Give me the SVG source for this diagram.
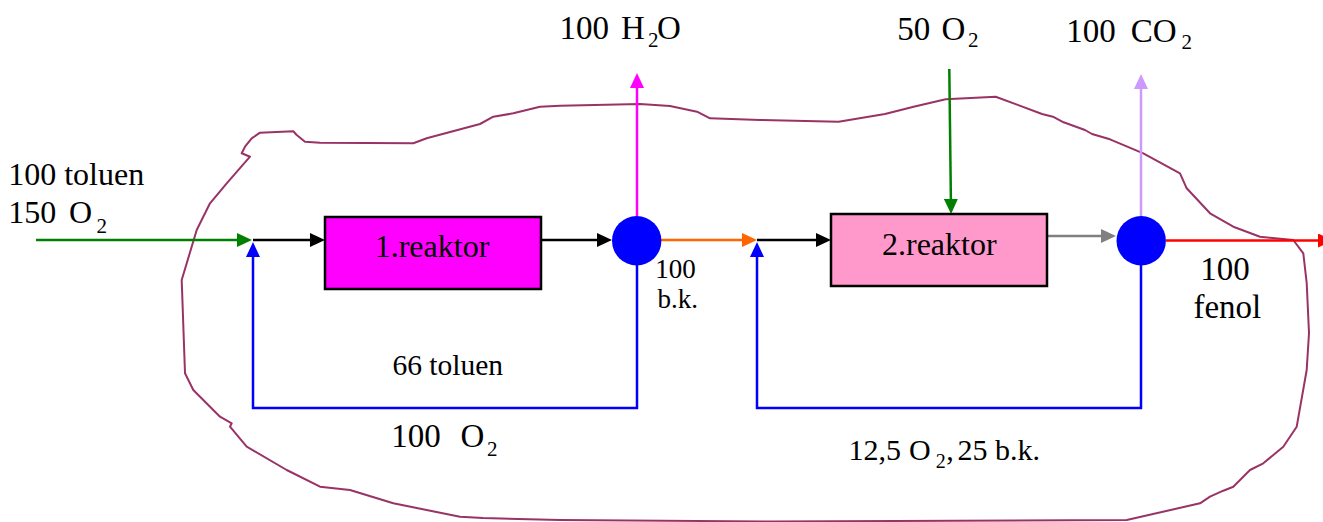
<svg xmlns="http://www.w3.org/2000/svg" width="1323" height="522" viewBox="0 0 1323 522">
<style>
.t{font-family:"Liberation Serif","Times New Roman",serif;fill:#000}
.c{fill:none;stroke-width:2.5;stroke-linejoin:miter}
.rx{stroke:#000;stroke-width:2.5}
</style>
<defs>
<marker id="mK" viewBox="0 0 15 14" refX="10" refY="7" markerWidth="15" markerHeight="14" markerUnits="userSpaceOnUse" orient="auto"><path d="M0,0L15,7L0,14z" fill="#000"/></marker>
<marker id="mG" viewBox="0 0 15 14" refX="10" refY="7" markerWidth="15" markerHeight="14" markerUnits="userSpaceOnUse" orient="auto"><path d="M0,0L15,7L0,14z" fill="#008000"/></marker>
<marker id="mB" viewBox="0 0 15 14" refX="10" refY="7" markerWidth="15" markerHeight="14" markerUnits="userSpaceOnUse" orient="auto"><path d="M0,0L15,7L0,14z" fill="#0000FF"/></marker>
<marker id="mM" viewBox="0 0 15 14" refX="10" refY="7" markerWidth="15" markerHeight="14" markerUnits="userSpaceOnUse" orient="auto"><path d="M0,0L15,7L0,14z" fill="#FF00FF"/></marker>
<marker id="mO" viewBox="0 0 15 14" refX="10" refY="7" markerWidth="15" markerHeight="14" markerUnits="userSpaceOnUse" orient="auto"><path d="M0,0L15,7L0,14z" fill="#FF6600"/></marker>
<marker id="mY" viewBox="0 0 15 14" refX="10" refY="7" markerWidth="15" markerHeight="14" markerUnits="userSpaceOnUse" orient="auto"><path d="M0,0L15,7L0,14z" fill="#808080"/></marker>
<marker id="mL" viewBox="0 0 15 14" refX="10" refY="7" markerWidth="15" markerHeight="14" markerUnits="userSpaceOnUse" orient="auto"><path d="M0,0L15,7L0,14z" fill="#CC99FF"/></marker>
<marker id="mR" viewBox="0 0 15 14" refX="10" refY="7" markerWidth="15" markerHeight="14" markerUnits="userSpaceOnUse" orient="auto"><path d="M0,0L15,7L0,14z" fill="#FF0000"/></marker>
</defs>
<rect width="1323" height="522" fill="#fff"/>
<g id="boundary">
<path fill="none" stroke="#993366" stroke-width="2" stroke-linejoin="round" d="M250,156.7 L241.7,153.3 L245,146.7 L251.7,138.3 L260,132.7 L293.3,131.3 L296.7,135 L305,141.7 L320,142.7 L413.3,143.3 L426.7,138.3 L480,124 L493.3,116.7 L513.3,113.3 L540,106.7 L560,105.7 L640,104 L670,106 L697,111.7 L710,118.3 L760,120 L838.6,121.7 L885,114 L913.6,106.7 L945.7,99.3 L995.7,96.7 L1042,114 L1052.9,116.7 L1063.6,122.3 L1085,130 L1092,134 L1110,139.3 L1143.3,153.3 L1180,173.3 L1186.7,188.3 L1210,213.3 L1233.3,226.7 L1260,236.7 L1293.3,240 L1303.3,253.3 L1306.7,283 L1309,333 L1306.7,370 L1296.7,426.7 L1283.3,446.7 L1263.3,463.3 L1250,470 L1233.3,486.7 L1223.3,490.7 L1210,496.7 L1200,503.3 L1126.7,520 L773,521.5 L560,520 L483,518 L460,516.7 L393.3,503.3 L350,490 L320,486.7 L286.7,470 L246.7,446.7 L230,426.7 L231.7,423.3 L220,416.7 L193.3,390 L185,373.3 L181.7,280 L196.7,230 L210,203.3 L226.7,183.3 Z"/>
</g>
<g id="connectors">
<path class="c" stroke="#008000" d="M36,240H247" marker-end="url(#mG)"/>
<path class="c" stroke="#000" d="M253,240H320" marker-end="url(#mK)"/>
<path class="c" stroke="#0000FF" d="M637,265V408H253V247" marker-end="url(#mB)"/>
<path class="c" stroke="#000" d="M541,240H607" marker-end="url(#mK)"/>
<path class="c" stroke="#FF00FF" d="M637,216V78" marker-end="url(#mM)"/>
<path class="c" stroke="#FF6600" d="M661,240H752" marker-end="url(#mO)"/>
<path class="c" stroke="#000" d="M757,240H826" marker-end="url(#mK)"/>
<path class="c" stroke="#0000FF" d="M1141,265V408H757V247" marker-end="url(#mB)"/>
<path class="c" stroke="#008000" d="M949.3,69L951,209" marker-end="url(#mG)"/>
<path class="c" stroke="#808080" d="M1047,236H1111" marker-end="url(#mY)"/>
<path class="c" stroke="#CC99FF" d="M1141,216V79" marker-end="url(#mL)"/>
<path class="c" stroke="#FF0000" stroke-width="3" d="M1166,240.5H1328" marker-end="url(#mR)"/>
</g>
<g id="reactor1">
<rect class="rx" x="325" y="217" width="216" height="72" fill="#FF00FF"/>
<text class="t" x="374.7" y="257" font-size="32">1.reaktor</text>
</g>
<g id="reactor2">
<rect class="rx" x="831" y="214" width="216" height="72" fill="#FF99CC"/>
<text class="t" x="882" y="255" font-size="32">2.reaktor</text>
</g>
<g id="separator1">
<circle cx="636.7" cy="240.7" r="24.7" fill="#0000FF"/>
</g>
<g id="separator2">
<circle cx="1141.2" cy="240.7" r="24.7" fill="#0000FF"/>
</g>
<g id="labels">
<text class="t" x="8.2" y="185" font-size="32">100 toluen</text>
<text class="t" y="223.3" font-size="32"><tspan x="8.2">150</tspan><tspan x="68.9">O</tspan><tspan x="96.4" y="233" font-size="21">2</tspan></text>
<text class="t" y="39.3" font-size="33"><tspan x="559.6">100</tspan><tspan x="621">H</tspan><tspan x="648" y="46.7" font-size="21">2</tspan><tspan x="657" y="39.3">O</tspan></text>
<text class="t" y="40" font-size="33"><tspan x="897.3">50</tspan><tspan x="941.5">O</tspan><tspan x="968" y="46.7" font-size="21">2</tspan></text>
<text class="t" y="41.7" font-size="33"><tspan x="1066.3">100</tspan><tspan x="1130.8">CO</tspan><tspan x="1181.4" y="49" font-size="21">2</tspan></text>
<text class="t" font-size="27"><tspan x="655.3" y="278.3">100</tspan><tspan x="657.6" y="308.3">b.k.</tspan></text>
<text class="t" font-size="33"><tspan x="1200.3" y="280">100</tspan><tspan x="1193.4" y="318.3">fenol</tspan></text>
<text class="t" x="392.4" y="375" font-size="29.5">66 toluen</text>
<text class="t" y="446.7" font-size="33"><tspan x="391.3">100</tspan><tspan x="460.5">O</tspan><tspan x="487" y="455.7" font-size="21">2</tspan></text>
<text class="t" y="460" font-size="30"><tspan x="848.4">12,5</tspan><tspan x="909">O</tspan><tspan x="935.7" y="468" font-size="20">2</tspan><tspan x="946.3" y="460">,</tspan><tspan x="957.5">25 b.k.</tspan></text>
</g>
</svg>
